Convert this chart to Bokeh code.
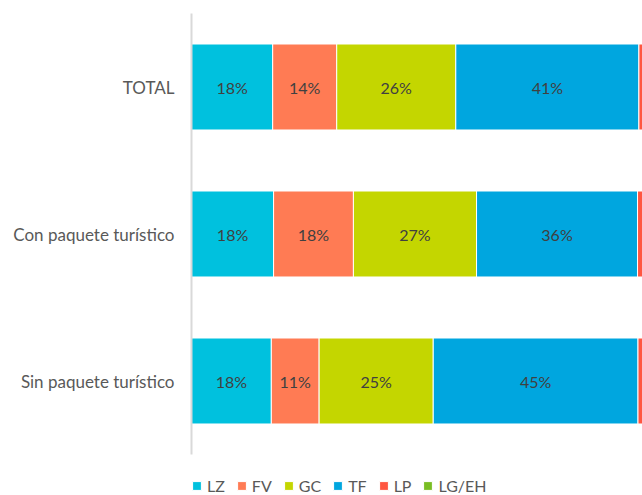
from bokeh.plotting import figure
from bokeh.models import ColumnDataSource, Legend, LegendItem, Range1d, FixedTicker
from bokeh.embed import file_html
from bokeh.resources import INLINE
from bokeh.core.properties import value

categories = ["TOTAL", "Con paquete turístico", "Sin paquete turístico"]
series = ["LZ", "FV", "GC", "TF", "LP", "LG/EH"]
LZ = [18.0, 18.2, 17.7]
FV = [14.2, 17.7, 10.6]
GC = [26.4, 27.3, 25.3]
TF = [40.6, 35.7, 45.4]
LP = [0.8, 1.1, 1.0]
LGEH = [0.0, 0.0, 0.0]
colors = ["#00C1DE", "#FF7B54", "#C4D600", "#00A6DF", "#FF5640", "#79BD23"]

values = [LZ, FV, GC, TF, LP, LGEH]
keys = ["LZ", "FV", "GC", "TF", "LP", "LGEH"]

# category positions: first category on top
ypos = [len(categories) - 1 - i for i in range(len(categories))]

data = {"y": ypos}
for k, v in zip(keys, values):
    data[k] = v
source = ColumnDataSource(data)

FONT = "Lato"
W, H, TOP = 642, 495, 13
unit = 147.0          # px per category
y_top = len(categories) - 0.5
y_bot = y_top - (H - TOP) / unit

p = figure(width=W, height=H, output_backend="svg", toolbar_location=None,
           y_range=Range1d(y_bot, y_top), x_range=Range1d(0, 100))
p.min_border_left = 191
p.min_border_right = 0
p.min_border_top = TOP
p.min_border_bottom = 0
p.outline_line_color = None
p.xgrid.visible = False
p.ygrid.visible = False
p.xaxis.visible = False

yax = p.yaxis[0]
yax.ticker = FixedTicker(ticks=ypos)
yax.major_label_overrides = {y: c for y, c in zip(ypos, categories)}
yax.bounds = (-0.5, len(categories) - 0.5)
yax.axis_line_color = "#D9D9D9"
yax.axis_line_width = 2
yax.major_tick_line_color = None
yax.minor_tick_line_color = None
yax.major_label_text_font = FONT
yax.major_label_text_font_size = "17px"
yax.major_label_text_color = "#595959"
yax.major_label_standoff = 11

renderers = p.hbar_stack(keys, y="y", height=0.585, color=colors, source=source,
                         line_color="white", line_width=1)

# data labels
lab_x, lab_y, lab_t = [], [], []
for i, yy in enumerate(ypos):
    left = 0.0
    for k, v in zip(keys, values):
        if v[i] >= 3:
            lab_x.append(left + v[i] / 2)
            lab_y.append(yy)
            lab_t.append(f"{round(v[i])}%")
        left += v[i]
lsrc = ColumnDataSource(dict(x=lab_x, y=lab_y, t=lab_t))
p.text(x="x", y="y", text="t", source=lsrc, text_align="center", text_baseline="middle",
       text_font=value(FONT), text_font_size="16px", text_color="#404040")

items = [LegendItem(label=s, renderers=[r]) for s, r in zip(series, renderers)]
legend = Legend(items=items, orientation="horizontal", location=(0, 0),
                glyph_width=11, glyph_height=11, label_standoff=5, spacing=11,
                padding=0, margin=0, border_line_color=None, background_fill_alpha=0,
                label_text_font=FONT, label_text_font_size="16px",
                label_text_color="#595959", label_height=14, label_width=0)
p.add_layout(legend, "center")

open("out.html", "w").write(file_html(p, INLINE))
